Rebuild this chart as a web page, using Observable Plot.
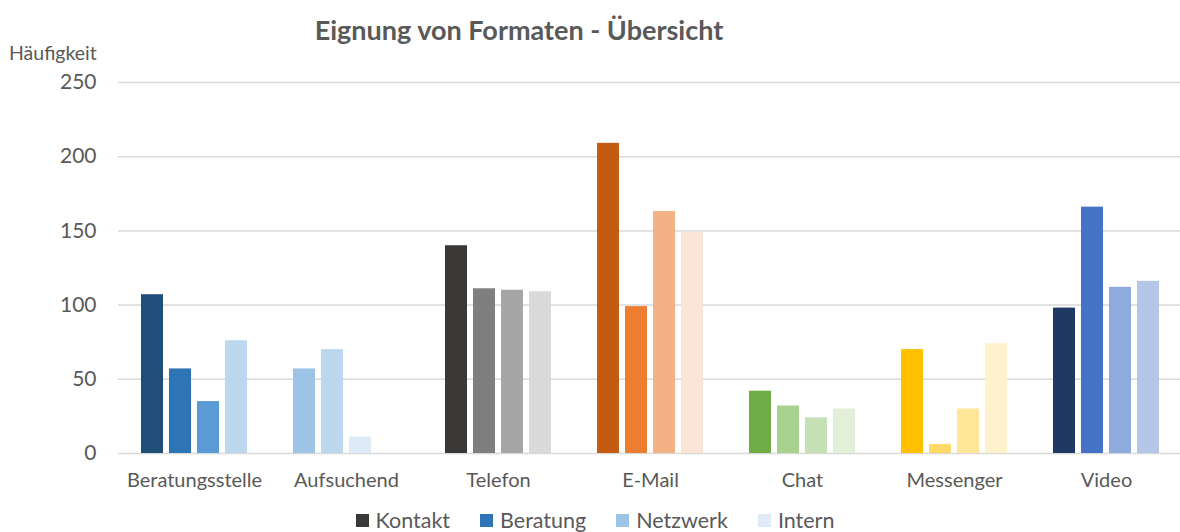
<!DOCTYPE html>
<html><head><meta charset="utf-8">
<script src="https://cdn.jsdelivr.net/npm/d3@7"></script>
<script src="https://cdn.jsdelivr.net/npm/@observablehq/plot@0.6"></script>
<style>
body{margin:0;background:#fff;font-family:Lato,"Open Sans",sans-serif;}
#wrap{position:relative;width:1180px;height:532px;overflow:hidden;background:#fff}
#chart{position:absolute;left:0;top:0}
#title{position:absolute;left:0;width:1038px;top:13px;text-align:center;font-weight:bold;font-size:27px;color:#595959;line-height:34px}
#ylab{position:absolute;left:9px;top:41px;font-size:19.5px;color:#595959;line-height:24px}
#legend{position:absolute;left:0;width:1190px;top:507px;display:flex;justify-content:center;font-size:21.5px;color:#595959;line-height:26px}
#legend .item{display:flex;align-items:center;margin:0 15px}
#legend .sw{width:13px;height:13px;margin-right:7px}
</style></head>
<body>
<div id="wrap">
<div id="chart"></div>
<div id="title">Eignung von Formaten - Übersicht</div>
<div id="ylab">Häufigkeit</div>
<div id="legend"></div>
</div>
<script>
const categories = ["Beratungsstelle","Aufsuchend","Telefon","E-Mail","Chat","Messenger","Video"];
const series = ["Kontakt","Beratung","Netzwerk","Intern"];
const kontakt  = [107, 57, 140, 209, 42, 70, 98];
const beratung = [57, 70, 111, 99, 32, 6, 166];
const netzwerk = [35, 11, 110, 163, 24, 30, 112];
const intern   = [76, 0, 109, 149, 30, 74, 116];
const yTicks = [0, 50, 100, 150, 200, 250];

// colours per category (Kontakt, Beratung, Netzwerk, Intern)
const barColors = [
  ["#1F4E79","#2E75B6","#5B9BD5","#BDD7EE"],
  ["#9DC3E6","#BDD7EE","#DEEBF7","#DEEBF7"],
  ["#3B3838","#7F7F7F","#A6A6A6","#D9D9D9"],
  ["#C55A11","#ED7D31","#F4B183","#FBE5D6"],
  ["#70AD47","#A9D18E","#C5E0B4","#E2F0D9"],
  ["#FFC000","#FFD966","#FFE699","#FFF2CC"],
  ["#203864","#4472C4","#8FAADC","#B4C7E7"]
];
const legendColors = ["#3B3838","#2E75B6","#9DC3E6","#DEEBF7"];

const valuesBySeries = [kontakt, beratung, netzwerk, intern];
const rows = [];
categories.forEach((c, i) => {
  series.forEach((s, j) => {
    rows.push({cat: c, series: s, value: valuesBySeries[j][i], color: barColors[i][j]});
  });
});

const chart = Plot.plot({
  width: 1180,
  height: 500,
  marginTop: 82,
  marginBottom: 47,
  marginLeft: 117,
  marginRight: -3,
  style: {fontFamily: "Lato, 'Open Sans', sans-serif", color: "#595959", background: "transparent"},
  fx: {domain: categories, padding: 0, label: null},
  x: {domain: series, axis: null, paddingInner: 0.2, paddingOuter: 0.75},
  y: {domain: [0, 250], label: null},
  marks: [
    Plot.gridY(yTicks, {stroke: "#D9D9D9", strokeOpacity: 1, strokeWidth: 1.5}),
    Plot.barY(rows, {fx: "cat", x: "series", y: "value", fill: "color"}),
    Plot.axisY(yTicks, {tickSize: 0, tickPadding: 22, fontSize: 21, fill: "#595959", label: null}),
    Plot.axisFx({anchor: "bottom", tickSize: 0, tickPadding: 19, fontSize: 20, fill: "#595959", label: null})
  ]
});
document.getElementById("chart").appendChild(chart);

const leg = document.getElementById("legend");
series.forEach((s, j) => {
  const it = document.createElement("div");
  it.className = "item";
  const sw = document.createElement("span");
  sw.className = "sw";
  sw.style.background = legendColors[j];
  const t = document.createElement("span");
  t.textContent = s;
  it.appendChild(sw); it.appendChild(t);
  leg.appendChild(it);
});
</script>
</body></html>
